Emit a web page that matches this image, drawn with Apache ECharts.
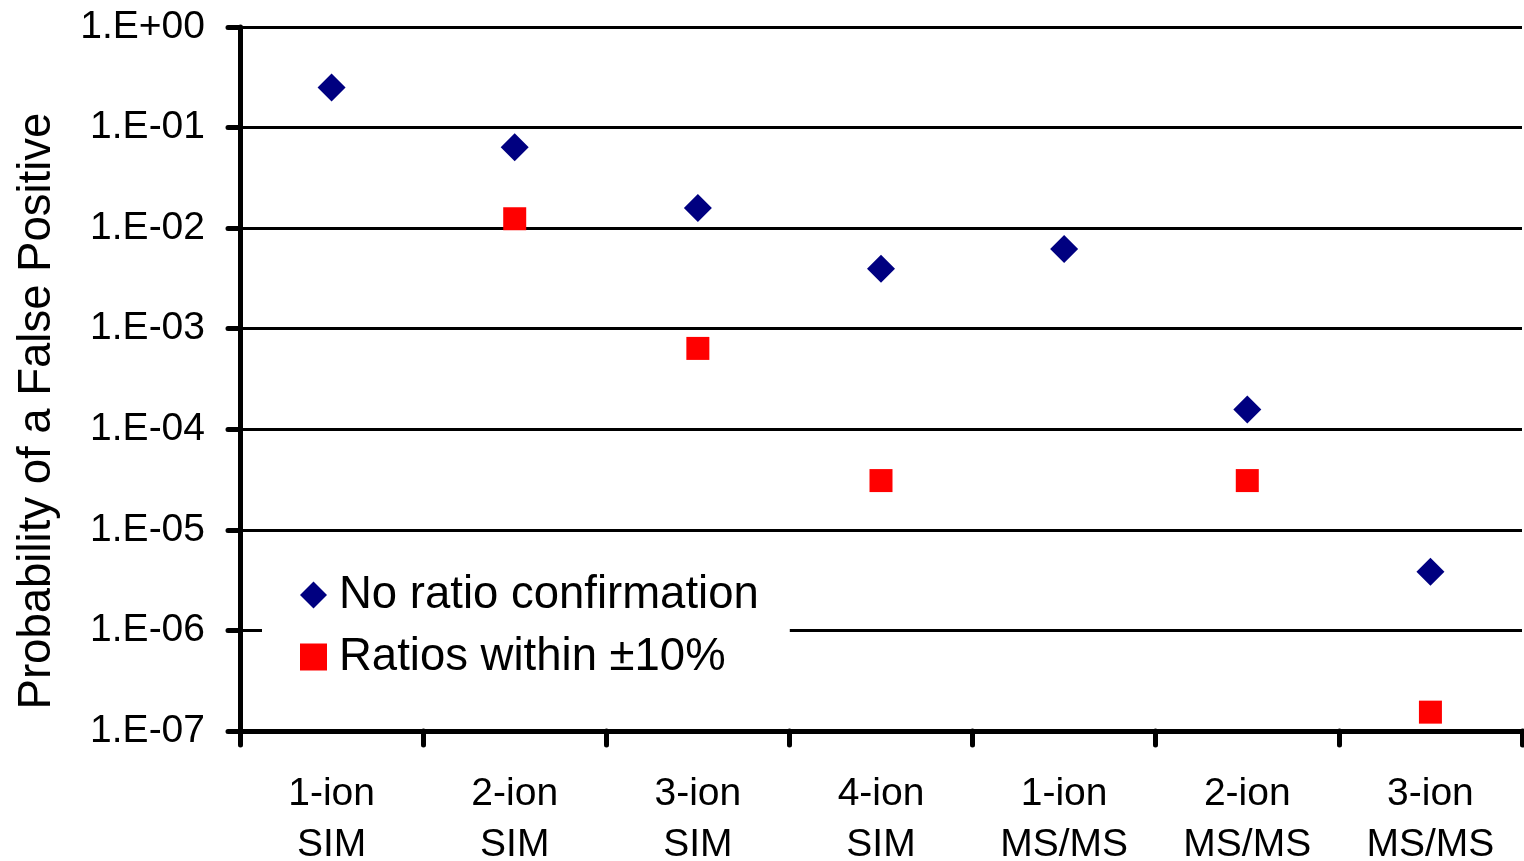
<!DOCTYPE html>
<html>
<head>
<meta charset="utf-8">
<script src="https://cdn.jsdelivr.net/npm/echarts@6/dist/echarts.min.js"></script>
<style>
  html, body { margin: 0; padding: 0; background: #fff; }
  #chart { width: 1524px; height: 861px; }
</style>
</head>
<body>
<div id="chart"></div>
<script>
var categories = ['1-ion\nSIM', '2-ion\nSIM', '3-ion\nSIM', '4-ion\nSIM', '1-ion\nMS/MS', '2-ion\nMS/MS', '3-ion\nMS/MS'];
var noRatio = [0.251, 0.0637, 0.0159, 0.00395, 0.0062, 0.000157, 0.00000384];
var ratiosWithin = [null, 0.0124, 0.000637, 0.0000309, null, 0.0000309, 0.000000154];
var seriesNames = ['No ratio confirmation', 'Ratios within \u00b110%'];

var font = 'Arial, "Liberation Sans", sans-serif';

function expLabel (v) {
  var e = Math.round(Math.log10(v));
  var s = String(Math.abs(e));
  if (s.length < 2) s = '0' + s;
  return '1.E' + (e < 0 ? '-' : '+') + s;
}

var myChart = echarts.init(document.getElementById('chart'));
myChart.setOption({
  animation: false,
  textStyle: { fontFamily: font },
  grid: {
    left: 240,
    right: 2,
    top: 27,
    bottom: 130,
    outerBoundsMode: 'none'
  },
  legend: {
    data: [
      { name: seriesNames[0], icon: 'diamond', itemStyle: { color: '#000080' } },
      { name: seriesNames[1], icon: 'rect', itemStyle: { color: '#FF0000' } }
    ],
    orient: 'vertical',
    left: 262,
    top: 555,
    padding: [15, 31, 18, 38],
    backgroundColor: '#fff',
    itemWidth: 27,
    itemHeight: 27,
    itemGap: 12,
    textStyle: {
      fontFamily: font,
      fontSize: 45.5,
      lineHeight: 50,
      color: '#000',
      padding: [0, 0, 0, 7]
    },
    z: 10
  },
  xAxis: {
    type: 'category',
    data: categories,
    boundaryGap: true,
    axisLine: { lineStyle: { color: '#000', width: 5, cap: 'round' } },
    axisTick: { show: true, length: 14, lineStyle: { color: '#000', width: 5, cap: 'round' } },
    axisLabel: {
      fontFamily: font,
      fontSize: 39,
      lineHeight: 51,
      color: '#000',
      margin: 38
    },
    splitLine: { show: false }
  },
  yAxis: {
    type: 'log',
    logBase: 10,
    min: 1e-7,
    max: 1,
    interval: 1,
    splitNumber: 7,
    name: 'Probability of a False Positive',
    nameLocation: 'middle',
    nameGap: 180,
    nameTextStyle: { fontFamily: font, fontSize: 45.5, color: '#000', padding: [0, 64, 0, 0] },
    axisLine: { show: true, lineStyle: { color: '#000', width: 5, cap: 'round' } },
    axisTick: { show: true, length: 12, lineStyle: { color: '#000', width: 5, cap: 'round' } },
    axisLabel: {
      fontFamily: font,
      fontSize: 39,
      color: '#000',
      margin: 35,
      formatter: expLabel
    },
    splitLine: { show: true, lineStyle: { color: '#000', width: 3 } }
  },
  series: [
    {
      type: 'scatter',
      name: seriesNames[0],
      data: noRatio,
      symbol: 'diamond',
      symbolSize: 28,
      itemStyle: { color: '#000080', opacity: 1 },
      z: 3
    },
    {
      type: 'scatter',
      name: seriesNames[1],
      data: ratiosWithin,
      symbol: 'rect',
      symbolSize: 23,
      itemStyle: { color: '#FF0000', opacity: 1 },
      z: 3
    }
  ]
});
</script>
</body>
</html>
